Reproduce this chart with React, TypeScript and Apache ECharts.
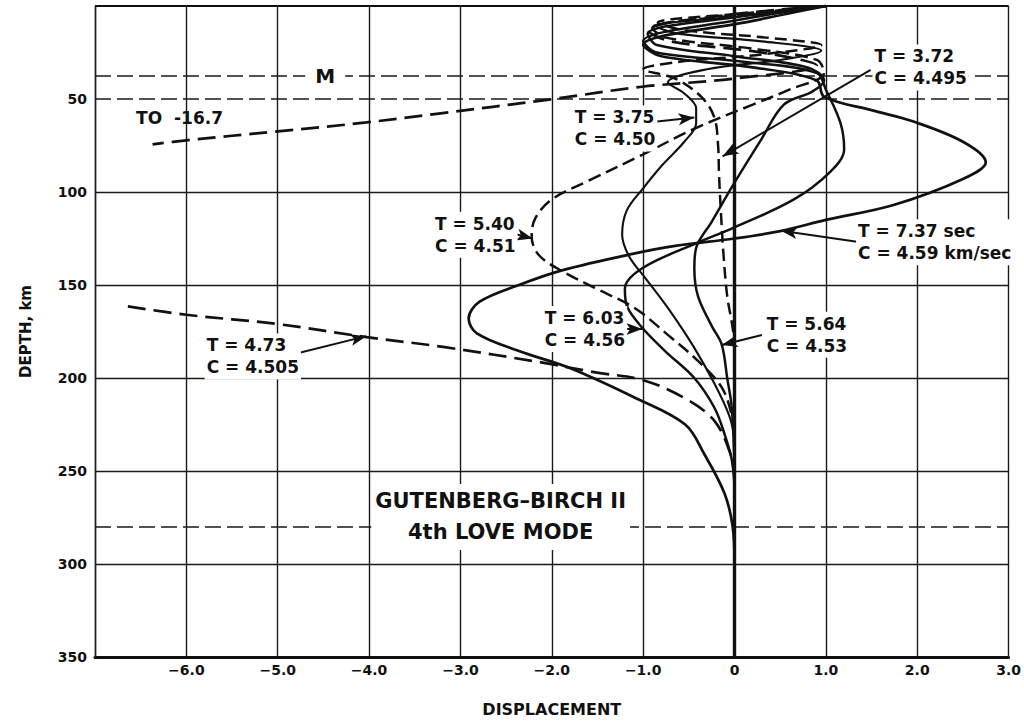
import React, { useEffect, useRef } from 'react';
import * as echarts from 'echarts';

// ---- data: [displacement, depth km] ----
const t737: number[][] = [[1,0],[0.2,8],[-1.0,21],[-0.8,27],[0.2,33],[0.9,40],[0.98,48.7],[1.5,56],[1.95,62],[2.5,73],[2.75,84],[2.5,93],[1.74,107],[1.0,115],[0.5,121],[0,125],[-0.65,129],[-1.09,133],[-1.88,142],[-2.36,150],[-2.79,159],[-2.91,168],[-2.82,176],[-2.36,185.5],[-1.81,194.5],[-1.09,210.6],[-0.54,225],[-0.33,241],[-0.11,262],[-0.02,280],[0,300]];
const t603: number[][] = [[1,0],[0.1,7],[-1.0,19],[-0.85,25],[0.1,30],[0.9,36],[1.0,45],[1.16,63],[1.2,77],[1.05,89],[0.65,104],[0,119],[-0.44,128],[-1.01,141],[-1.2,152],[-1.18,161],[-1.01,173],[-0.76,185.5],[-0.44,200],[-0.22,216],[-0.11,230],[-0.03,244],[0,258]];
const t564: number[][] = [[1,0],[0,6],[-0.95,15],[-0.85,21],[0,27],[0.8,33],[0.98,40],[0.85,46],[0.54,53],[0.29,72],[0,95],[-0.25,116],[-0.42,130],[-0.44,141],[-0.4,156],[-0.25,172],[-0.14,182],[-0.08,200],[-0.03,216],[0,248]];
const t540: number[][] = [[1,0],[0,5],[-0.9,12],[-0.75,17],[0.2,23],[0.9,29],[0.98,36],[0.6,45],[0.2,53],[-0.44,66],[-1.01,80],[-1.6,94],[-2.0,104],[-2.18,114],[-2.22,124],[-2.14,134],[-1.88,142.7],[-1.52,151.8],[-1.09,162.5],[-0.73,176.8],[-0.4,190.8],[-0.14,205],[-0.03,220],[0,230]];
const t473Upper: number[][] = [[1,0],[-0.1,5],[-0.95,13],[-0.7,19],[0.3,25],[0.9,32],[0,39],[-1.01,43.4],[-2.03,50.3],[-3.26,58],[-4.03,62.6],[-5.0,67.4],[-6.0,72.2],[-6.37,74.4]];
const t473Lower: number[][] = [[-6.64,161.5],[-6.0,166],[-5.0,171],[-4.03,178],[-3.19,183.3],[-2.07,192],[-1.52,197],[-1.01,201],[-0.54,211],[-0.22,223],[-0.05,240],[0,252]];
const t375: number[][] = [[1,0],[0.2,5],[-0.85,11],[-0.6,15],[0.3,19],[0.95,24],[0.5,29],[-0.3,34],[-0.73,41],[-0.55,47],[-0.42,55],[-0.42,63],[-0.55,73],[-0.8,86],[-1.0,98],[-1.18,110],[-1.23,123],[-1.15,135],[-0.98,146],[-0.72,163],[-0.45,183],[-0.22,203],[-0.06,220],[0,232]];
const t372: number[][] = [[1,0],[0.1,4],[-0.84,9],[-0.55,13],[0.35,17],[0.95,21],[0.3,26],[-0.6,30],[-1.0,34],[-0.65,39],[-0.36,49],[-0.22,60],[-0.18,75],[-0.17,90],[-0.15,110],[-0.12,134],[-0.08,156],[-0.03,170],[0,180]];

const depthSolidLines = [100, 150, 200, 250, 300];
const depthDashedLines = [37.5, 50, 280];

const labelTexts = [
  'T = 3.72\nC = 4.495',
  'T = 3.75\nC = 4.50',
  'T = 5.40\nC = 4.51',
  'T = 6.03\nC = 4.56',
  'T = 7.37 sec\nC = 4.59 km/sec',
  'T = 5.64\nC = 4.53',
  'T = 4.73\nC = 4.505',
];
const labelAnchors: number[][] = [[1.51,33],[-1.77,65.8],[-3.30,123],[-2.10,173.7],[1.33,127],[0.33,176.7],[-5.80,188.4]];
const arrowFrom: number[][] = [[1.49,34.3],[-0.95,62.6],[-2.50,121.4],[-1.34,173.7],[1.34,126.7],[0.30,176.9],[-4.86,187.6]];
const arrowTo: number[][] = [[-0.13,80.8],[-0.44,60],[-2.21,125],[-1.01,173.7],[0.51,120.8],[-0.14,182.3],[-4.03,177.5]];

const FONT = '"DejaVu Sans", "Liberation Sans", Arial, sans-serif';
const INK = '#111';

export default function App() {
  const ref = useRef<HTMLDivElement>(null);
  useEffect(() => {
    if (!ref.current) return;
    const chart = echarts.init(ref.current, undefined, { renderer: 'svg' });
    const curve = (name: string, data: number[][], type: any, width: number, extra: any = {}) => ({
      name, type: 'line', data, smooth: 0.35, showSymbol: false, symbol: 'none', z: 5,
      lineStyle: { color: INK, width, type }, silent: true, ...extra,
    });
    const gridMarks = {
      silent: true, symbol: ['none', 'none'], label: { show: false },
      data: [
        ...depthSolidLines.map((d) => ({ yAxis: d, lineStyle: { color: '#1a1a1a', width: 1.4, type: 'solid' } })),
        ...depthDashedLines.map((d) => ({ yAxis: d, lineStyle: { color: '#1a1a1a', width: 1.6, type: [16, 6] } })),
        { xAxis: 0, lineStyle: { color: INK, width: 3.4, type: 'solid' } },
        { yAxis: 0, lineStyle: { color: INK, width: 2.2, type: 'solid' } },
      ],
    };
    const textStyle = { fontFamily: FONT, fontWeight: 'bold' as const, color: INK };
    const annotations: any[] = labelTexts.map((t, i) => ({
      value: labelAnchors[i],
      label: { show: true, position: 'right', distance: 0, formatter: t, fontSize: 17, lineHeight: 22, backgroundColor: '#fff', padding: [1, 2], align: 'left', ...textStyle },
    }));
    annotations.push({ value: [-6.55, 60], label: { show: true, position: 'right', distance: 0, formatter: 'TO  -16.7', fontSize: 17, lineHeight: 20, padding: [0, 0], align: 'left', ...textStyle } });
    annotations.push({ value: [-4.48, 37.5], label: { show: true, position: 'inside', distance: 0, formatter: 'M', fontSize: 20, lineHeight: 22, backgroundColor: '#fff', padding: [0, 10], align: 'center', ...textStyle } });
    annotations.push({ value: [-2.56, 274.7], label: { show: true, position: 'inside', distance: 0, formatter: 'GUTENBERG–BIRCH II\n4th LOVE MODE', fontSize: 21, lineHeight: 31, backgroundColor: '#fff', padding: [2, 4], align: 'center', ...textStyle } });

    const option: any = {
      animation: false,
      backgroundColor: '#fff',
      grid: { left: 95, right: 10, top: 6, bottom: 61, containLabel: false },
      xAxis: {
        type: 'value', min: -7, max: 3, interval: 1,
        axisLine: { show: true, onZero: false, lineStyle: { color: INK, width: 3 } },
        axisTick: { show: false },
        splitLine: { show: true, lineStyle: { color: '#1a1a1a', width: 1.4 } },
        axisLabel: {
          margin: 6, fontSize: 14, ...textStyle,
          formatter: (v: number) => (v === -7 ? '' : v === 0 ? '0' : (v < 0 ? '−' : '') + Math.abs(v).toFixed(1)),
        },
        name: 'DISPLACEMENT', nameLocation: 'middle', nameGap: 44,
        nameTextStyle: { fontSize: 16, ...textStyle },
      },
      yAxis: {
        type: 'value', inverse: true, min: 0, max: 350, interval: 50,
        axisLine: { show: true, onZero: false, lineStyle: { color: '#1a1a1a', width: 1.4 } },
        axisTick: { show: false },
        splitLine: { show: false },
        axisLabel: { margin: 8, fontSize: 14, ...textStyle, formatter: (v: number) => (v === 0 ? '' : String(v)) },
        name: 'DEPTH, km', nameLocation: 'middle', nameGap: 62, nameRotate: 90,
        nameTextStyle: { fontSize: 15, ...textStyle },
      },
      series: [
        curve('T = 7.37', t737, 'solid', 2.7, { markLine: gridMarks, z: 6 }),
        curve('T = 6.03', t603, 'solid', 2.5),
        curve('T = 5.64', t564, 'solid', 2.5),
        curve('T = 5.40', t540, [13, 6], 2.5),
        curve('T = 4.73 a', t473Upper, [18, 8], 2.7),
        curve('T = 4.73 b', t473Lower, [18, 8], 2.7),
        curve('T = 3.75', t375, 'solid', 2.1),
        curve('T = 3.72', t372, [12, 6], 2.5),
        {
          name: 'labels', type: 'scatter', symbolSize: 0, z: 10, silent: true,
          itemStyle: { opacity: 1, color: INK },
          data: annotations,
        },
        {
          name: 'arrows', type: 'line', data: [], z: 9, silent: true,
          markLine: {
            silent: true, symbol: ['none', 'arrow'], symbolSize: [9, 16], label: { show: false },
            lineStyle: { color: INK, width: 2, type: 'solid', opacity: 1 },
            itemStyle: { color: INK, opacity: 1 },
            data: arrowFrom.map((p, i) => [{ coord: p }, { coord: arrowTo[i] }]),
          },
        },
      ],
    };
    chart.setOption(option);
    return () => chart.dispose();
  }, []);
  return <div ref={ref} style={{ position: 'fixed', left: 0, top: 0, width: 1024, height: 722, background: '#fff' }} />;
}
